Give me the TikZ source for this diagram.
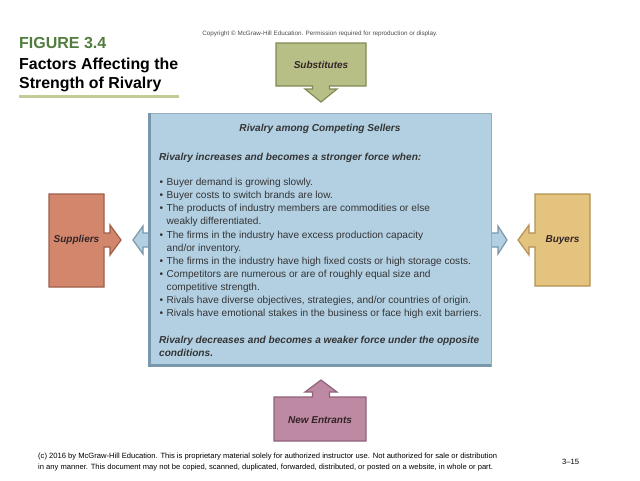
\documentclass[tikz,border=0pt]{standalone}
\usepackage{fontspec}
\setmainfont{Liberation Sans}
\definecolor{subsF}{RGB}{183,191,134}
\definecolor{subsD}{RGB}{128,138,84}
\definecolor{supF}{RGB}{210,135,108}
\definecolor{supD}{RGB}{158,94,74}
\definecolor{buyF}{RGB}{227,195,125}
\definecolor{buyD}{RGB}{178,146,84}
\definecolor{newF}{RGB}{190,137,163}
\definecolor{newD}{RGB}{143,98,123}
\definecolor{cenF}{RGB}{179,208,227}
\definecolor{cenD}{RGB}{122,152,172}
\definecolor{titleG}{RGB}{80,125,62}
\definecolor{lineK}{RGB}{197,203,150}
\definecolor{txtD}{RGB}{52,52,52}
\definecolor{boxT}{RGB}{50,36,40}
\begin{document}
\begin{tikzpicture}[x=1pt,y=-1pt,
  shapebox/.style={line width=1.2pt, line join=miter},
  boxlabel/.style={font=\fontsize{10}{12}\selectfont\bfseries\itshape, text=boxT, inner sep=0},
  bodyline/.style={font=\fontsize{10.1}{12}\selectfont, text=txtD, anchor=base west, inner sep=0},
  bodyhead/.style={font=\fontsize{10.1}{12}\selectfont\bfseries\itshape, text=txtD, anchor=base west, inner sep=0},
  bul/.style={font=\fontsize{10.1}{12}\selectfont, text=txtD, anchor=base, inner sep=0},
  foot/.style={font=\fontsize{7.6}{9}\selectfont, text=black, anchor=base west, inner sep=0}]
\useasboundingbox[fill=white] (0,0) rectangle (640,480);

% title
\node[anchor=base west, inner sep=0, font=\fontsize{16}{18}\selectfont\bfseries, text=titleG] (fig) at (19,48.5) {FIGURE 3.4};
\node[anchor=base west, inner sep=0, font=\fontsize{15.9}{18}\selectfont\bfseries, text=black] (t1) at (19,69) {Factors Affecting the};
\node[anchor=base west, inner sep=0, font=\fontsize{15.9}{18}\selectfont\bfseries, text=black] (t2) at (19,88) {Strength of Rivalry};
\draw[lineK, line width=3pt] (19,96.5) -- (179,96.5);
\node[inner sep=0, font=\fontsize{6.3}{7}\selectfont, text=black!70] (copy) at (320,34) {Copyright © McGraw-Hill Education. Permission required for reproduction or display.};

% Substitutes
\filldraw[shapebox, fill=subsF, draw=subsD] (276,43) -- (366,43) -- (366,86) -- (329.5,86) -- (329.5,89) -- (337,89) -- (321,102) -- (305,89) -- (312.5,89) -- (312.5,86) -- (276,86) -- cycle;
\node[boxlabel] (subs) at (321,64.5) {Substitutes};

% New Entrants
\filldraw[shapebox, fill=newF, draw=newD] (274,397) -- (312.5,397) -- (312.5,392) -- (305,392) -- (321,380) -- (337,392) -- (329.5,392) -- (329.5,397) -- (366,397) -- (366,441) -- (274,441) -- cycle;
\node[boxlabel] (newent) at (320,420) {New Entrants};

% Suppliers
\filldraw[shapebox, fill=supF, draw=supD] (49,194) -- (104,194) -- (104,233) -- (110,233) -- (110,225) -- (121,240) -- (110,255) -- (110,247) -- (104,247) -- (104,287) -- (49,287) -- cycle;
\node[boxlabel] (sup) at (76.5,240) {Suppliers};

% Buyers
\filldraw[shapebox, fill=buyF, draw=buyD] (535,194) -- (590,194) -- (590,286) -- (535,286) -- (535,247) -- (529,247) -- (529,255) -- (518,240) -- (529,225) -- (529,233) -- (535,233) -- cycle;
\node[boxlabel] (buy) at (562.5,240) {Buyers};

% central box arrows
\filldraw[shapebox, fill=cenF, draw=cenD] (150,233) -- (143,233) -- (143,226) -- (133,240) -- (143,254) -- (143,247) -- (150,247);
\filldraw[shapebox, fill=cenF, draw=cenD] (490,233) -- (498,233) -- (498,226) -- (507,240) -- (498,254) -- (498,247) -- (490,247);
% central box
\filldraw[fill=cenF, draw=cenD!80, line width=1pt] (149,113) rectangle (491,366);
\draw[cenD, line width=2.6pt] (149.5,113) -- (149.5,365.5) -- (491,365.5);
\node (cen) at (320,240) {};

\node[font=\fontsize{10.1}{12}\selectfont\bfseries\itshape, text=txtD, anchor=base, inner sep=0] (h1) at (320,131) {Rivalry among Competing Sellers};
\node[bodyhead] (h2) at (159,160.6) {Rivalry increases and becomes a stronger force when:};

\node[bul] (b1) at (161.5,185.6) {•};
\node[bodyline] (l1) at (166.5,185.6) {Buyer demand is growing slowly.};
\node[bul] (b2) at (161.5,198.7) {•};
\node[bodyline] (l2) at (166.5,198.7) {Buyer costs to switch brands are low.};
\node[bul] (b3) at (161.5,211.8) {•};
\node[bodyline] (l3) at (166.5,211.8) {The products of industry members are commodities or else};
\node[bodyline] (l4) at (166.5,224.9) {weakly differentiated.};
\node[bul] (b5) at (161.5,238.0) {•};
\node[bodyline] (l5) at (166.5,238.0) {The firms in the industry have excess production capacity};
\node[bodyline] (l6) at (166.5,251.1) {and/or inventory.};
\node[bul] (b7) at (161.5,264.2) {•};
\node[bodyline] (l7) at (166.5,264.2) {The firms in the industry have high fixed costs or high storage costs.};
\node[bul] (b8) at (161.5,277.3) {•};
\node[bodyline] (l8) at (166.5,277.3) {Competitors are numerous or are of roughly equal size and};
\node[bodyline] (l9) at (166.5,290.4) {competitive strength.};
\node[bul] (b10) at (161.5,303.5) {•};
\node[bodyline] (l10) at (166.5,303.5) {Rivals have diverse objectives, strategies, and/or countries of origin.};
\node[bul] (b11) at (161.5,316.6) {•};
\node[bodyline] (l11) at (166.5,316.6) {Rivals have emotional stakes in the business or face high exit barriers.};

\node[bodyhead] (h3) at (159,343.6) {Rivalry decreases and becomes a weaker force under the opposite};
\node[bodyhead] (h4) at (159,356.6) {conditions.};

% footer
\node[foot] (f1) at (38,458.5) {(c) 2016 by McGraw-Hill Education. This is proprietary material solely for authorized instructor use. Not authorized for sale or distribution};
\node[foot] (f2) at (38,469.5) {in any manner. This document may not be copied, scanned, duplicated, forwarded, distributed, or posted on a website, in whole or part.};
\node[foot] (pg) at (562,464) {3–15};
\end{tikzpicture}
\end{document}
